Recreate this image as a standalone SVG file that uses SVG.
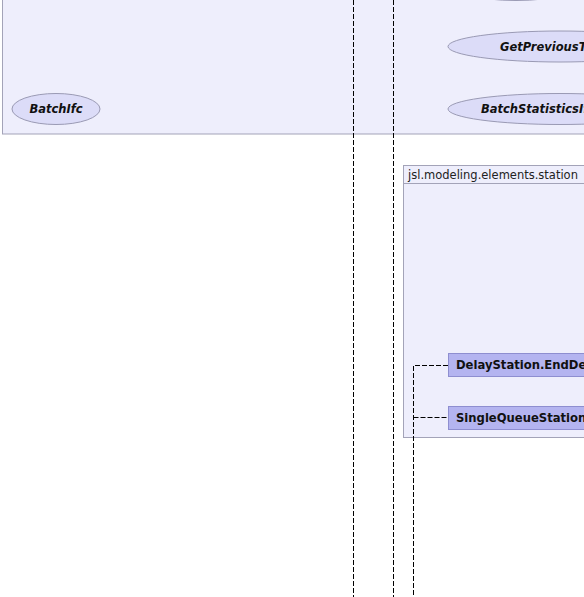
<svg xmlns="http://www.w3.org/2000/svg" width="584" height="597" viewBox="0 0 584 597">
  <style>
    .pkg { fill: #eeeefc; stroke: #a3a3b8; stroke-width: 1; }
    .uc { fill: #dcdcf8; stroke: #9a9ab4; stroke-width: 1; }
    .uctxt { font-family: "DejaVu Sans", sans-serif; font-size: 11.5px; font-weight: bold; font-style: italic; fill: #111; }
    .cls { fill: #b4b4f0; stroke: #8e8ed0; stroke-width: 1; }
    .clstxt { font-family: "DejaVu Sans", sans-serif; font-size: 11.6px; font-weight: bold; fill: #111; }
    .pkgtxt { font-family: "DejaVu Sans", sans-serif; font-size: 11.5px; fill: #222; }
    .dep { fill: none; stroke: #000; stroke-width: 1; stroke-dasharray: 5 2; }
  </style>

  <rect width="584" height="597" fill="#ffffff"/>

  <!-- outer package holding the interfaces -->
  <g id="pkg-top">
    <rect class="pkg" x="2.5" y="-20" width="600" height="154"/>
  </g>

  <g id="uc-top">
    <ellipse class="uc" cx="516" cy="-18" rx="70" ry="18.5"/>
  </g>
  <g id="uc-getprevious">
    <ellipse class="uc" cx="560" cy="46.5" rx="112" ry="15.5"/>
    <text class="uctxt" x="500" y="50.5">GetPreviousTimeWindow</text>
  </g>
  <g id="uc-batchifc">
    <ellipse class="uc" cx="56" cy="109" rx="44" ry="15.5"/>
    <text class="uctxt" x="56" y="113" text-anchor="middle">BatchIfc</text>
  </g>
  <g id="uc-batchstatistics">
    <ellipse class="uc" cx="560" cy="109" rx="112" ry="15.5"/>
    <text class="uctxt" x="481" y="113">BatchStatisticsIfc</text>
  </g>

  <!-- station package -->
  <g id="pkg-station">
    <rect class="pkg" x="403.5" y="165.5" width="200" height="272"/>
    <line x1="403.5" y1="183.5" x2="604" y2="183.5" stroke="#a3a3b8"/>
    <text class="pkgtxt" x="408" y="179">jsl.modeling.elements.station</text>
  </g>

  <g id="cls-delay">
    <rect class="cls" x="448.5" y="353.5" width="160" height="23"/>
    <text class="clstxt" x="456" y="369">DelayStation.EndDelayAction</text>
  </g>
  <g id="cls-singlequeue">
    <rect class="cls" x="448.5" y="406.5" width="160" height="23"/>
    <text class="clstxt" x="456" y="422">SingleQueueStation.EndServiceAction</text>
  </g>

  <!-- connectors -->
  <g id="connectors">
    <line class="dep" x1="353.5" y1="0" x2="353.5" y2="597"/>
    <line class="dep" x1="393.5" y1="0" x2="393.5" y2="597"/>
    <polyline class="dep" points="448,365.5 413.5,365.5 413.5,597"/>
    <line class="dep" x1="413.5" y1="417.5" x2="448" y2="417.5"/>
  </g>
</svg>
